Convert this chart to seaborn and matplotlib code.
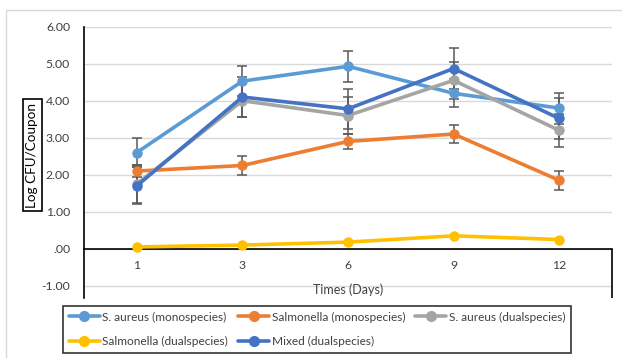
import numpy as np
import pandas as pd
import matplotlib
matplotlib.use("Agg")
import matplotlib.pyplot as plt
from matplotlib.lines import Line2D
from matplotlib.ticker import FuncFormatter
import seaborn as sns

# --- data ---
days = ["1", "3", "6", "9", "12"]
series_names = ["S. aureus (monospecies)", "Salmonella (monospecies)",
                "S. aureus (dualspecies)", "Salmonella (dualspecies)",
                "Mixed (dualspecies)"]
sa_mono = [2.60, 4.53, 4.93, 4.20, 3.80]
sal_mono = [2.10, 2.25, 2.90, 3.10, 1.85]
sa_dual = [1.75, 4.00, 3.60, 4.55, 3.20]
sal_dual = [0.05, 0.10, 0.18, 0.35, 0.25]
mixed = [1.70, 4.10, 3.78, 4.87, 3.52]

sa_mono_err = [0.40, 0.40, 0.42, 0.38, 0.42]
sal_mono_err = [0.15, 0.25, 0.20, 0.24, 0.25]
sa_dual_err = [0.50, 0.45, 0.50, 0.50, 0.45]
mixed_err = [0.50, 0.55, 0.54, 0.55, 0.55]

colors = ["#5B9BD5", "#ED7D31", "#A5A5A5", "#FFC000", "#4472C4"]

values = [sa_mono, sal_mono, sa_dual, sal_dual, mixed]
errors = [sa_mono_err, sal_mono_err, sa_dual_err, None, mixed_err]

rows = []
for name, vals in zip(series_names, values):
    for i, v in enumerate(vals):
        rows.append({"pos": i, "Day": days[i], "Series": name, "Log": v})
df = pd.DataFrame(rows)

sns.set_style("white")
plt.rcParams["font.family"] = ["Lato", "DejaVu Sans"]

fig = plt.figure(figsize=(6.22, 3.58), dpi=100)
ax = fig.add_axes([84 / 622, 1 - 298 / 358, (612 - 84) / 622, (298 - 26.7) / 358])

# error bars (under the lines)
for name, vals, err in zip(series_names, values, errors):
    if err is None:
        continue
    ax.errorbar(range(len(days)), vals, yerr=err, fmt="none", ecolor="#595959",
                elinewidth=1.1, capsize=3.5, capthick=1.1, zorder=2)

sns.lineplot(data=df, x="pos", y="Log", hue="Series", hue_order=series_names,
             palette=colors, marker="o", markersize=7.5, markeredgewidth=0,
             linewidth=2.6, legend=False, ax=ax, zorder=3)

ax.set_xlim(-0.5, 4.5)
ax.set_ylim(-1.33, 6)
ax.set_yticks(range(-1, 7))
ax.yaxis.set_major_formatter(FuncFormatter(
    lambda v, p: ".00" if abs(v) < 1e-9 else f"{v:.2f}"))
ax.set_xticks(range(len(days)))
ax.set_xticklabels(days)
ax.tick_params(axis="both", length=0, labelsize=8.8, colors="#404040")
ax.tick_params(axis="x", pad=8)
ax.tick_params(axis="y", pad=10)
ax.yaxis.grid(True, color="#D9D9D9", linewidth=1)
ax.set_axisbelow(True)
ax.set_xlabel("")
ax.set_ylabel("")

for s in ["top", "right"]:
    ax.spines[s].set_visible(False)
ax.spines["left"].set_color("black")
ax.spines["left"].set_linewidth(1.2)
ax.spines["bottom"].set_position(("data", 0))
ax.spines["bottom"].set_color("black")
ax.spines["bottom"].set_linewidth(1.2)
ax.vlines(4.5, -1.33, 0, color="black", linewidth=1.2, clip_on=False)

fig.text(348 / 622, 1 - 290 / 358, "Times (Days)", ha="center", va="center",
         fontsize=9, color="#404040")
fig.text(32.5 / 622, 1 - 155 / 358, "Log CFU/Coupon", rotation=90, ha="center",
         va="center", fontsize=9.7, color="black",
         bbox=dict(boxstyle="square,pad=0.25", facecolor="white",
                   edgecolor="black", linewidth=1.2))

# legend: column-wise order so rows read like the reference
handles = [Line2D([0], [0], color=c, marker="o", markersize=7, linewidth=2.6)
           for c in colors]
order = [0, 3, 1, 4, 2]
leg = fig.legend([handles[i] for i in order], [series_names[i] for i in order],
                 ncol=3, loc="center", bbox_to_anchor=(317 / 622, 1 - 329.5 / 358),
                 fontsize=8.6, frameon=True, fancybox=False, edgecolor="black",
                 handlelength=2.6, handletextpad=0.2, columnspacing=0.85,
                 labelspacing=1.15, borderpad=0.45)
leg.get_frame().set_linewidth(1.2)
for t in leg.get_texts():
    t.set_color("#404040")

# outer chart border (top and left visible)
fig.add_artist(Line2D([6 / 622, 1], [1 - 10 / 358] * 2, color="#D9D9D9", linewidth=1))
fig.add_artist(Line2D([6 / 622] * 2, [0, 1 - 10 / 358], color="#D9D9D9", linewidth=1))

fig.savefig("out.png", dpi=100)
